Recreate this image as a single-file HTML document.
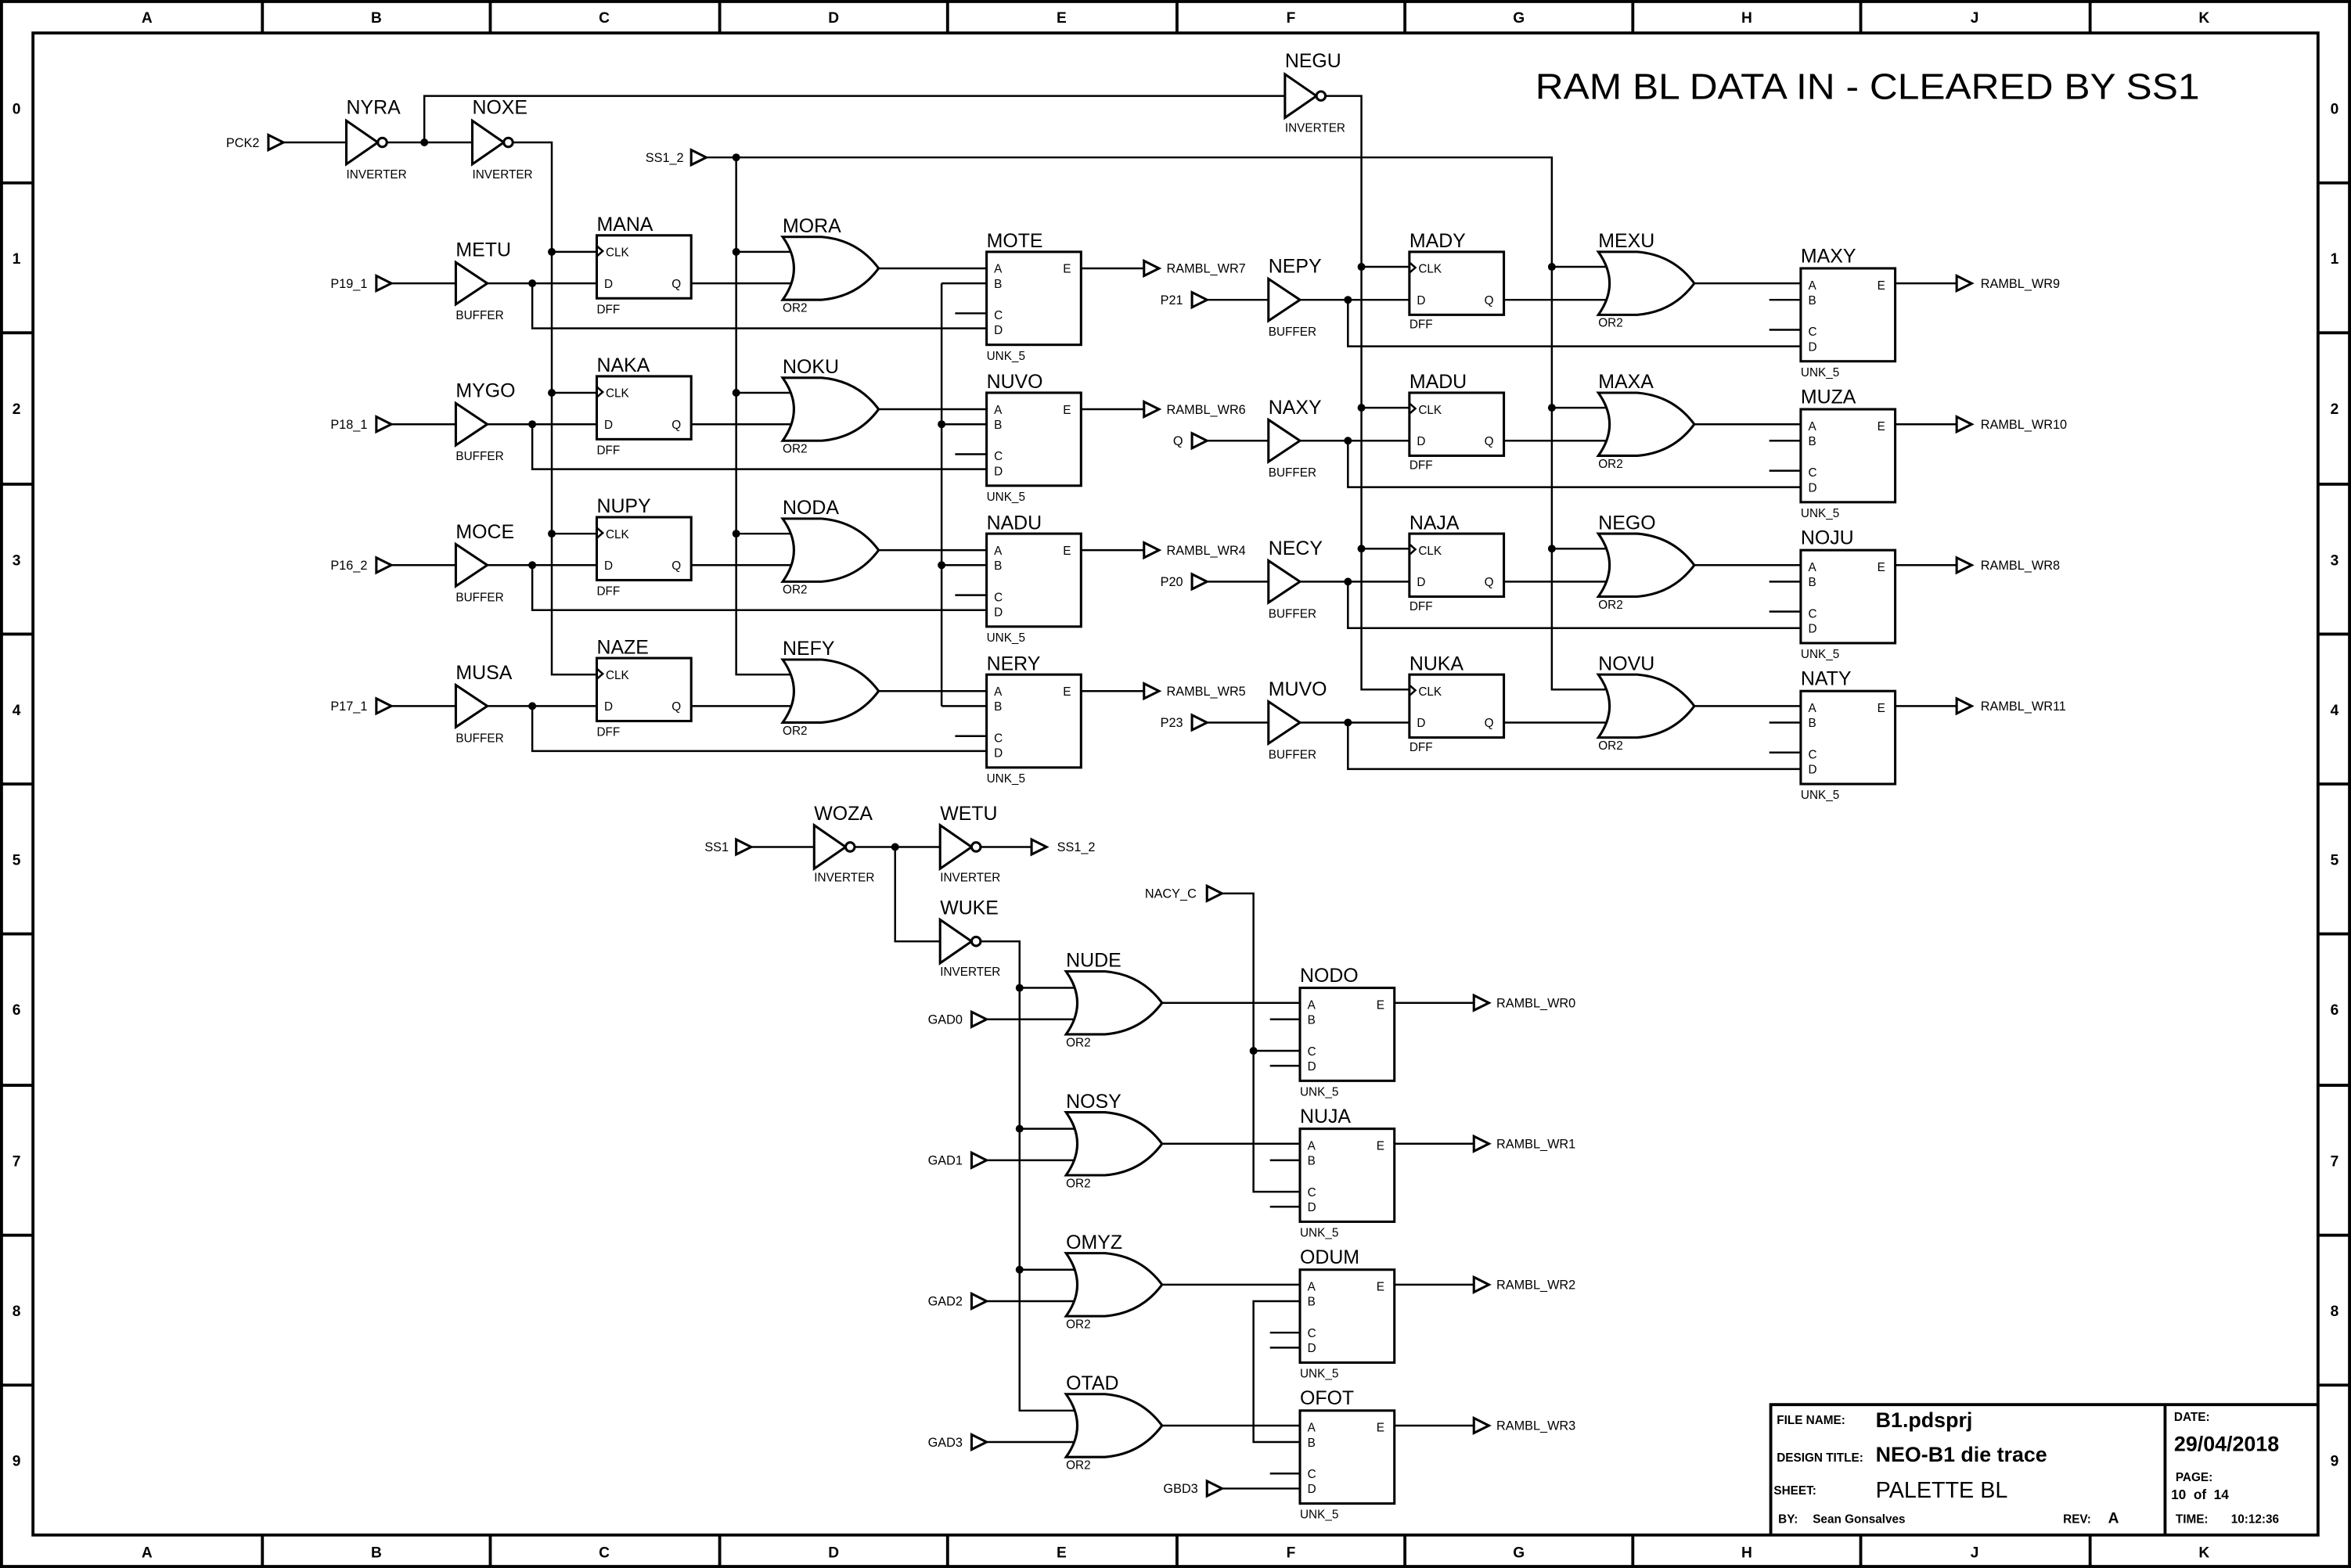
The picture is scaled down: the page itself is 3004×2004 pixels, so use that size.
<!DOCTYPE html>
<html><head><meta charset="utf-8"><style>
html,body{margin:0;padding:0;background:#fff}
svg{display:block}
text{font-family:"Liberation Sans",Arial,sans-serif;fill:#000}
.n{font-size:13px}
.s{font-size:8px}
.p{font-size:8.5px}
.w{stroke:#000;stroke-width:1.3;fill:none}
.g{stroke:#000;stroke-width:1.6;fill:#fff}
.f{stroke:#000;stroke-width:2;fill:none}
.b{font-weight:bold}
</style></head><body>
<svg width="3004" height="2004" viewBox="0 0 1568 1046" xmlns="http://www.w3.org/2000/svg">
<defs>
<g id="inv"><path class="g" d="M0,-14.5 L21,0 L0,14.5 Z"/><circle class="g" cx="24" cy="0" r="3"/></g>
<g id="buf"><path class="g" d="M0,-14 L21,0 L0,14 Z"/></g>
<g id="dff"><rect class="g" x="0" y="0" width="63" height="42"/><path class="w" d="M0,7 L4,10.5 L0,14"/></g>
<g id="or"><path class="g" d="M0,0 L26,0 Q50,2 64,21 Q50,40 26,42 L0,42 Q15,21 0,0 Z"/></g>
<g id="unk"><rect class="g" x="0" y="0" width="63" height="62"/></g>
<g id="arr"><path class="g" d="M0,-5 L10,0 L0,5 Z"/></g>
<g id="dot"><circle cx="0" cy="0" r="2.6" fill="#000"/></g>
</defs>

<!-- frame -->
<rect class="f" x="1" y="1" width="1566" height="1044"/>
<rect class="f" x="22" y="22" width="1524" height="1002"/>
<path class="f" d="M175,1V22M327,1V22M480,1V22M632,1V22M785,1V22M937,1V22M1089,1V22M1241,1V22M1394,1V22
M175,1024V1045M327,1024V1045M480,1024V1045M632,1024V1045M785,1024V1045M937,1024V1045M1089,1024V1045M1241,1024V1045M1394,1024V1045
M1,122H22M1,222H22M1,323H22M1,423H22M1,523H22M1,623H22M1,724H22M1,824H22M1,924H22
M1546,122H1567M1546,222H1567M1546,323H1567M1546,423H1567M1546,523H1567M1546,623H1567M1546,724H1567M1546,824H1567M1546,924H1567"/>
<g class="b" style="font-size:10px" text-anchor="middle">
<text x="98" y="15">A</text><text x="251" y="15">B</text><text x="403" y="15">C</text><text x="556" y="15">D</text><text x="708" y="15">E</text><text x="861" y="15">F</text><text x="1013" y="15">G</text><text x="1165" y="15">H</text><text x="1317" y="15">J</text><text x="1470" y="15">K</text>
<text x="98" y="1039">A</text><text x="251" y="1039">B</text><text x="403" y="1039">C</text><text x="556" y="1039">D</text><text x="708" y="1039">E</text><text x="861" y="1039">F</text><text x="1013" y="1039">G</text><text x="1165" y="1039">H</text><text x="1317" y="1039">J</text><text x="1470" y="1039">K</text>
<text x="11" y="76">0</text><text x="11" y="176">1</text><text x="11" y="276">2</text><text x="11" y="377">3</text><text x="11" y="477">4</text><text x="11" y="577">5</text><text x="11" y="677">6</text><text x="11" y="778">7</text><text x="11" y="878">8</text><text x="11" y="978">9</text>
<text x="1557" y="76">0</text><text x="1557" y="176">1</text><text x="1557" y="276">2</text><text x="1557" y="377">3</text><text x="1557" y="477">4</text><text x="1557" y="577">5</text><text x="1557" y="677">6</text><text x="1557" y="778">7</text><text x="1557" y="878">8</text><text x="1557" y="978">9</text>
</g>

<text x="1024" y="66" style="font-size:24px" textLength="443" lengthAdjust="spacingAndGlyphs">RAM BL DATA IN - CLEARED BY SS1</text>

<!-- top clock / ss1_2 -->
<text class="p" x="173" y="98" text-anchor="end">PCK2</text>
<use href="#arr" x="179" y="95"/>
<path class="w" d="M189,95H231M258,95H315M342,95H368V450H398M283,95V64H857M884,64H908V460H940M471,105H1035V460H1076M491,105V450H532"/>
<use href="#inv" x="231" y="95"/><text class="n" x="231" y="76">NYRA</text><text class="s" x="231" y="119">INVERTER</text>
<use href="#inv" x="315" y="95"/><text class="n" x="315" y="76">NOXE</text><text class="s" x="315" y="119">INVERTER</text>
<use href="#inv" x="857" y="64"/><text class="n" x="857" y="45">NEGU</text><text class="s" x="857" y="88">INVERTER</text>
<use href="#dot" x="283" y="95"/><use href="#dot" x="491" y="105"/>
<text class="p" x="456" y="108" text-anchor="end">SS1_2</text>
<use href="#arr" x="461" y="105"/>
<path class="w" d="M628,189V471"/>
<use href="#dot" x="628" y="283"/><use href="#dot" x="628" y="377"/>

<!-- left rows -->
<g id="rowL0">
<path class="w" d="M261,189H304M325,189H398M355,189V219H658M368,168H398M461,189H533M491,168H533M586,179H658M628,189H658M637,209H658M721,179H763"/>
</g>
<path class="w" d="M261,283H304M325,283H398M355,283V313H658M368,262H398M461,283H533M491,262H533M586,273H658M628,283H658M637,303H658M721,273H763"/>
<path class="w" d="M261,377H304M325,377H398M355,377V407H658M368,356H398M461,377H533M491,356H533M586,367H658M628,377H658M637,397H658M721,367H763"/>
<path class="w" d="M261,471H304M325,471H398M355,471V501H658M461,471H533M586,461H658M628,471H658M637,491H658M721,461H763"/>
<use href="#dot" x="355" y="189"/><use href="#dot" x="355" y="283"/><use href="#dot" x="355" y="377"/><use href="#dot" x="355" y="471"/>
<use href="#dot" x="368" y="168"/><use href="#dot" x="368" y="262"/><use href="#dot" x="368" y="356"/>
<use href="#dot" x="491" y="168"/><use href="#dot" x="491" y="262"/><use href="#dot" x="491" y="356"/>

<text class="p" x="245" y="192" text-anchor="end">P19_1</text><use href="#arr" x="251" y="189"/>
<text class="p" x="245" y="286" text-anchor="end">P18_1</text><use href="#arr" x="251" y="283"/>
<text class="p" x="245" y="380" text-anchor="end">P16_2</text><use href="#arr" x="251" y="377"/>
<text class="p" x="245" y="474" text-anchor="end">P17_1</text><use href="#arr" x="251" y="471"/>

<use href="#buf" x="304" y="189"/><text class="n" x="304" y="171">METU</text><text class="s" x="304" y="213">BUFFER</text>
<use href="#buf" x="304" y="283"/><text class="n" x="304" y="265">MYGO</text><text class="s" x="304" y="307">BUFFER</text>
<use href="#buf" x="304" y="377"/><text class="n" x="304" y="359">MOCE</text><text class="s" x="304" y="401">BUFFER</text>
<use href="#buf" x="304" y="471"/><text class="n" x="304" y="453">MUSA</text><text class="s" x="304" y="495">BUFFER</text>

<use href="#dff" x="398" y="157"/><text class="n" x="398" y="154">MANA</text>
<use href="#dff" x="398" y="251"/><text class="n" x="398" y="248">NAKA</text>
<use href="#dff" x="398" y="345"/><text class="n" x="398" y="342">NUPY</text>
<use href="#dff" x="398" y="439"/><text class="n" x="398" y="436">NAZE</text>
<g class="s">
<text x="404" y="171">CLK</text><text x="403" y="192">D</text><text x="448" y="192">Q</text><text x="398" y="209">DFF</text>
<text x="404" y="265">CLK</text><text x="403" y="286">D</text><text x="448" y="286">Q</text><text x="398" y="303">DFF</text>
<text x="404" y="359">CLK</text><text x="403" y="380">D</text><text x="448" y="380">Q</text><text x="398" y="397">DFF</text>
<text x="404" y="453">CLK</text><text x="403" y="474">D</text><text x="448" y="474">Q</text><text x="398" y="491">DFF</text>
</g>

<use href="#or" x="522" y="158"/><text class="n" x="522" y="155">MORA</text><text class="s" x="522" y="208">OR2</text>
<use href="#or" x="522" y="252"/><text class="n" x="522" y="249">NOKU</text><text class="s" x="522" y="302">OR2</text>
<use href="#or" x="522" y="346"/><text class="n" x="522" y="343">NODA</text><text class="s" x="522" y="396">OR2</text>
<use href="#or" x="522" y="440"/><text class="n" x="522" y="437">NEFY</text><text class="s" x="522" y="490">OR2</text>

<use href="#unk" x="658" y="168"/><text class="n" x="658" y="165">MOTE</text>
<use href="#unk" x="658" y="262"/><text class="n" x="658" y="259">NUVO</text>
<use href="#unk" x="658" y="356"/><text class="n" x="658" y="353">NADU</text>
<use href="#unk" x="658" y="450"/><text class="n" x="658" y="447">NERY</text>
<g class="s">
<text x="663" y="182">A</text><text x="663" y="192">B</text><text x="663" y="213">C</text><text x="663" y="223">D</text><text x="709" y="182">E</text><text x="658" y="240">UNK_5</text>
<text x="663" y="276">A</text><text x="663" y="286">B</text><text x="663" y="307">C</text><text x="663" y="317">D</text><text x="709" y="276">E</text><text x="658" y="334">UNK_5</text>
<text x="663" y="370">A</text><text x="663" y="380">B</text><text x="663" y="401">C</text><text x="663" y="411">D</text><text x="709" y="370">E</text><text x="658" y="428">UNK_5</text>
<text x="663" y="464">A</text><text x="663" y="474">B</text><text x="663" y="495">C</text><text x="663" y="505">D</text><text x="709" y="464">E</text><text x="658" y="522">UNK_5</text>
</g>
<use href="#arr" x="763" y="179"/><text class="p" x="778" y="182">RAMBL_WR7</text>
<use href="#arr" x="763" y="273"/><text class="p" x="778" y="276">RAMBL_WR6</text>
<use href="#arr" x="763" y="367"/><text class="p" x="778" y="370">RAMBL_WR4</text>
<use href="#arr" x="763" y="461"/><text class="p" x="778" y="464">RAMBL_WR5</text>

<!-- right rows -->
<path class="w" d="M805,200H846M867,200H940M899,200V231H1201M908,178H940M1003,200H1077M1035,178H1077M1129,189H1201M1180,200H1201M1180,220H1201M1264,189H1305"/>
<path class="w" d="M805,294H846M867,294H940M899,294V325H1201M908,272H940M1003,294H1077M1035,272H1077M1129,283H1201M1180,294H1201M1180,314H1201M1264,283H1305"/>
<path class="w" d="M805,388H846M867,388H940M899,388V419H1201M908,366H940M1003,388H1077M1035,366H1077M1129,377H1201M1180,388H1201M1180,408H1201M1264,377H1305"/>
<path class="w" d="M805,482H846M867,482H940M899,482V513H1201M1003,482H1077M1129,471H1201M1180,482H1201M1180,502H1201M1264,471H1305"/>
<use href="#dot" x="899" y="200"/><use href="#dot" x="899" y="294"/><use href="#dot" x="899" y="388"/><use href="#dot" x="899" y="482"/>
<use href="#dot" x="908" y="178"/><use href="#dot" x="908" y="272"/><use href="#dot" x="908" y="366"/>
<use href="#dot" x="1035" y="178"/><use href="#dot" x="1035" y="272"/><use href="#dot" x="1035" y="366"/>

<text class="p" x="789" y="203" text-anchor="end">P21</text><use href="#arr" x="795" y="200"/>
<text class="p" x="789" y="297" text-anchor="end">Q</text><use href="#arr" x="795" y="294"/>
<text class="p" x="789" y="391" text-anchor="end">P20</text><use href="#arr" x="795" y="388"/>
<text class="p" x="789" y="485" text-anchor="end">P23</text><use href="#arr" x="795" y="482"/>

<use href="#buf" x="846" y="200"/><text class="n" x="846" y="182">NEPY</text><text class="s" x="846" y="224">BUFFER</text>
<use href="#buf" x="846" y="294"/><text class="n" x="846" y="276">NAXY</text><text class="s" x="846" y="318">BUFFER</text>
<use href="#buf" x="846" y="388"/><text class="n" x="846" y="370">NECY</text><text class="s" x="846" y="412">BUFFER</text>
<use href="#buf" x="846" y="482"/><text class="n" x="846" y="464">MUVO</text><text class="s" x="846" y="506">BUFFER</text>

<use href="#dff" x="940" y="168"/><text class="n" x="940" y="165">MADY</text>
<use href="#dff" x="940" y="262"/><text class="n" x="940" y="259">MADU</text>
<use href="#dff" x="940" y="356"/><text class="n" x="940" y="353">NAJA</text>
<use href="#dff" x="940" y="450"/><text class="n" x="940" y="447">NUKA</text>
<g class="s">
<text x="946" y="182">CLK</text><text x="945" y="203">D</text><text x="990" y="203">Q</text><text x="940" y="219">DFF</text>
<text x="946" y="276">CLK</text><text x="945" y="297">D</text><text x="990" y="297">Q</text><text x="940" y="313">DFF</text>
<text x="946" y="370">CLK</text><text x="945" y="391">D</text><text x="990" y="391">Q</text><text x="940" y="407">DFF</text>
<text x="946" y="464">CLK</text><text x="945" y="485">D</text><text x="990" y="485">Q</text><text x="940" y="501">DFF</text>
</g>

<use href="#or" x="1066" y="168"/><text class="n" x="1066" y="165">MEXU</text><text class="s" x="1066" y="218">OR2</text>
<use href="#or" x="1066" y="262"/><text class="n" x="1066" y="259">MAXA</text><text class="s" x="1066" y="312">OR2</text>
<use href="#or" x="1066" y="356"/><text class="n" x="1066" y="353">NEGO</text><text class="s" x="1066" y="406">OR2</text>
<use href="#or" x="1066" y="450"/><text class="n" x="1066" y="447">NOVU</text><text class="s" x="1066" y="500">OR2</text>

<use href="#unk" x="1201" y="179"/><text class="n" x="1201" y="175">MAXY</text>
<use href="#unk" x="1201" y="273"/><text class="n" x="1201" y="269">MUZA</text>
<use href="#unk" x="1201" y="367"/><text class="n" x="1201" y="363">NOJU</text>
<use href="#unk" x="1201" y="461"/><text class="n" x="1201" y="457">NATY</text>
<g class="s">
<text x="1206" y="193">A</text><text x="1206" y="203">B</text><text x="1206" y="224">C</text><text x="1206" y="234">D</text><text x="1252" y="193">E</text><text x="1201" y="251">UNK_5</text>
<text x="1206" y="287">A</text><text x="1206" y="297">B</text><text x="1206" y="318">C</text><text x="1206" y="328">D</text><text x="1252" y="287">E</text><text x="1201" y="345">UNK_5</text>
<text x="1206" y="381">A</text><text x="1206" y="391">B</text><text x="1206" y="412">C</text><text x="1206" y="422">D</text><text x="1252" y="381">E</text><text x="1201" y="439">UNK_5</text>
<text x="1206" y="475">A</text><text x="1206" y="485">B</text><text x="1206" y="506">C</text><text x="1206" y="516">D</text><text x="1252" y="475">E</text><text x="1201" y="533">UNK_5</text>
</g>
<use href="#arr" x="1305" y="189"/><text class="p" x="1321" y="192">RAMBL_WR9</text>
<use href="#arr" x="1305" y="283"/><text class="p" x="1321" y="286">RAMBL_WR10</text>
<use href="#arr" x="1305" y="377"/><text class="p" x="1321" y="380">RAMBL_WR8</text>
<use href="#arr" x="1305" y="471"/><text class="p" x="1321" y="474">RAMBL_WR11</text>

<!-- bottom section -->
<text class="p" x="486" y="568" text-anchor="end">SS1</text><use href="#arr" x="491" y="565"/>
<path class="w" d="M501,565H543M570,565H627M654,565H688M597,565V628H627M654,628H680V941H721"/>
<use href="#dot" x="597" y="565"/>
<use href="#inv" x="543" y="565"/><text class="n" x="543" y="547">WOZA</text><text class="s" x="543" y="588">INVERTER</text>
<use href="#inv" x="627" y="565"/><text class="n" x="627" y="547">WETU</text><text class="s" x="627" y="588">INVERTER</text>
<use href="#arr" x="688" y="565"/><text class="p" x="705" y="568">SS1_2</text>
<use href="#inv" x="627" y="628"/><text class="n" x="627" y="610">WUKE</text><text class="s" x="627" y="651">INVERTER</text>

<path class="w" d="M680,659H722M658,680H722M774,669H867M930,669H983
M680,753H722M658,774H722M774,763H867M930,763H983
M680,847H722M658,868H722M774,857H867M930,857H983
M658,962H722M774,951H867M930,951H983
M815,596H836V795H867M836,701H867M867,868H836V962H867M815,993H867
M847,680H867M847,711H867M847,774H867M847,805H867M847,889H867M847,899H867M847,983H867"/>
<use href="#dot" x="680" y="659"/><use href="#dot" x="680" y="753"/><use href="#dot" x="680" y="847"/><use href="#dot" x="836" y="701"/>

<text class="p" x="642" y="683" text-anchor="end">GAD0</text><use href="#arr" x="648" y="680"/>
<text class="p" x="642" y="777" text-anchor="end">GAD1</text><use href="#arr" x="648" y="774"/>
<text class="p" x="642" y="871" text-anchor="end">GAD2</text><use href="#arr" x="648" y="868"/>
<text class="p" x="642" y="965" text-anchor="end">GAD3</text><use href="#arr" x="648" y="962"/>
<text class="p" x="798" y="599" text-anchor="end">NACY_C</text><use href="#arr" x="805" y="596"/>
<text class="p" x="799" y="996" text-anchor="end">GBD3</text><use href="#arr" x="805" y="993"/>

<use href="#or" x="711" y="648"/><text class="n" x="711" y="645">NUDE</text><text class="s" x="711" y="698">OR2</text>
<use href="#or" x="711" y="742"/><text class="n" x="711" y="739">NOSY</text><text class="s" x="711" y="792">OR2</text>
<use href="#or" x="711" y="836"/><text class="n" x="711" y="833">OMYZ</text><text class="s" x="711" y="886">OR2</text>
<use href="#or" x="711" y="930"/><text class="n" x="711" y="927">OTAD</text><text class="s" x="711" y="980">OR2</text>

<use href="#unk" x="867" y="659"/><text class="n" x="867" y="655">NODO</text>
<use href="#unk" x="867" y="753"/><text class="n" x="867" y="749">NUJA</text>
<use href="#unk" x="867" y="847"/><text class="n" x="867" y="843">ODUM</text>
<use href="#unk" x="867" y="941"/><text class="n" x="867" y="937">OFOT</text>
<g class="s">
<text x="872" y="673">A</text><text x="872" y="683">B</text><text x="872" y="704">C</text><text x="872" y="714">D</text><text x="918" y="673">E</text><text x="867" y="731">UNK_5</text>
<text x="872" y="767">A</text><text x="872" y="777">B</text><text x="872" y="798">C</text><text x="872" y="808">D</text><text x="918" y="767">E</text><text x="867" y="825">UNK_5</text>
<text x="872" y="861">A</text><text x="872" y="871">B</text><text x="872" y="892">C</text><text x="872" y="902">D</text><text x="918" y="861">E</text><text x="867" y="919">UNK_5</text>
<text x="872" y="955">A</text><text x="872" y="965">B</text><text x="872" y="986">C</text><text x="872" y="996">D</text><text x="918" y="955">E</text><text x="867" y="1013">UNK_5</text>
</g>
<use href="#arr" x="983" y="669"/><text class="p" x="998" y="672">RAMBL_WR0</text>
<use href="#arr" x="983" y="763"/><text class="p" x="998" y="766">RAMBL_WR1</text>
<use href="#arr" x="983" y="857"/><text class="p" x="998" y="860">RAMBL_WR2</text>
<use href="#arr" x="983" y="951"/><text class="p" x="998" y="954">RAMBL_WR3</text>

<!-- title block -->
<path class="f" d="M1181,1024V937H1546M1444,937V1024"/>
<text x="1185" y="950" style="font-size:8px" class="b">FILE NAME:</text>
<text x="1251" y="952" style="font-size:14px" class="b">B1.pdsprj</text>
<text x="1185" y="975" style="font-size:8px" class="b">DESIGN TITLE:</text>
<text x="1251" y="975" style="font-size:14px" class="b">NEO-B1 die trace</text>
<text x="1183" y="997" style="font-size:8px" class="b">SHEET:</text>
<text x="1251" y="999" style="font-size:15px">PALETTE BL</text>
<text x="1186" y="1016" style="font-size:8px" class="b">BY:</text>
<text x="1209" y="1016" style="font-size:8px" class="b">Sean Gonsalves</text>
<text x="1376" y="1016" style="font-size:8px" class="b">REV:</text>
<text x="1406" y="1016" style="font-size:10px" class="b">A</text>
<text x="1450" y="948" style="font-size:8px" class="b">DATE:</text>
<text x="1450" y="968" style="font-size:14px" class="b">29/04/2018</text>
<text x="1451" y="988" style="font-size:8px" class="b">PAGE:</text>
<text x="1448" y="1000" style="font-size:9px" class="b">10 &#160;of &#160;14</text>
<text x="1451" y="1016" style="font-size:8px" class="b">TIME:</text>
<text x="1488" y="1016" style="font-size:8px" class="b">10:12:36</text>
</svg>
</body></html>
